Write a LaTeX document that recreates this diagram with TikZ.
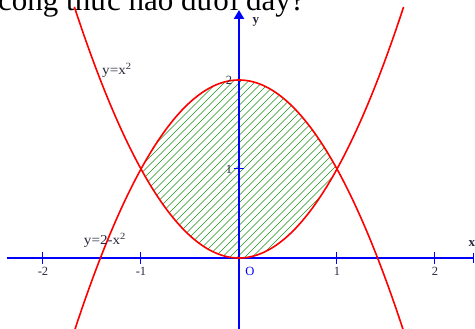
\documentclass[tikz,border=0pt]{standalone}
\usepackage{fontspec}
\setmainfont{Liberation Serif}
\usetikzlibrary{arrows.meta}
\definecolor{axisblue}{RGB}{0,0,255}
\definecolor{curvered}{RGB}{255,0,0}
\definecolor{hatchgreen}{RGB}{30,145,30}
\definecolor{labelgray}{RGB}{40,40,60}
\tikzset{
  axis/.style={draw=axisblue, line width=2.3pt},
  tickmark/.style={draw=axisblue, line width=1pt},
  curve/.style={draw=curvered, line width=1.6pt, samples=120},
  ticklabel/.style={text=labelgray, font=\fontsize{12.5}{12.5}\selectfont, inner sep=0pt},
  curvelabel/.style={text=labelgray, font=\fontsize{13.5}{13.5}\selectfont, inner sep=0pt, xscale=1.12},
  axislabel/.style={text=labelgray, font=\bfseries\fontsize{13}{13}\selectfont, inner sep=0pt}
}
\begin{document}
\begin{tikzpicture}[x=98pt,y=89pt]
\useasboundingbox (-239pt,-71pt) rectangle (236pt,258pt);
\begin{scope}
\clip (-239pt,-71pt) rectangle (236pt,258pt);
% top text (cut off)
\node[anchor=base west, inner sep=0pt, font=\fontsize{31}{31}\selectfont] (title) at (-241pt,247.5pt) {công thức nào dưới đây?};
% hatched region
\begin{scope}
\clip plot[domain=-1:1, samples=80] (\x,{2-\x*\x}) -- plot[domain=1:-1, samples=80] (\x,{\x*\x}) -- cycle;
\foreach \c in {-300,-292.5,...,300}
  \draw[hatchgreen, line width=0.5pt] (\c pt,-20pt) -- ++(260pt,260pt);
\end{scope}
% axes
\coordinate (xl) at (-232pt,0);
\coordinate (xr) at (235pt,0);
\coordinate (yb) at (0,-72pt);
\coordinate (yt) at (0,248pt);
\draw[axis] (xl) -- (xr);
\draw[tickmark] (235pt,-5pt) -- (235pt,5pt);
\draw[axis, -{Triangle[length=9pt,width=10pt]}] (yb) -- (yt);
\foreach \t in {-2,-1,1,2}
  \draw[tickmark] (\t,-6pt) -- (\t,6pt);
\draw[tickmark] (-5pt,1) -- (5pt,1);
% curves
\draw[curve] plot[domain=-1.68:1.68] (\x,{\x*\x});
\draw[curve] plot[domain=-1.68:1.68] (\x,{2-\x*\x});
% labels
\node[ticklabel] (lm2) at (-2,-13pt) {-2};
\node[ticklabel] (lm1) at (-1,-13pt) {-1};
\node[ticklabel] (l1) at (1,-13pt) {1};
\node[ticklabel] (l2) at (2,-13pt) {2};
\node[ticklabel, text=axisblue] (lO) at (11pt,-13pt) {O};
\node[ticklabel] (ly1) at (-10pt,1) {1};
\node[ticklabel] (ly2) at (-10pt,2) {2};
\node[axislabel] (ylab) at (17pt,236pt) {y};
\node[axislabel] (xlab) at (233pt,14pt) {x};
\node[curvelabel] (c1) at (-122pt,188pt) {y=x\textsuperscript{2}};
\node[curvelabel] (c2) at (-134pt,18pt) {y=2-x\textsuperscript{2}};
\end{scope}
\end{tikzpicture}
\end{document}
